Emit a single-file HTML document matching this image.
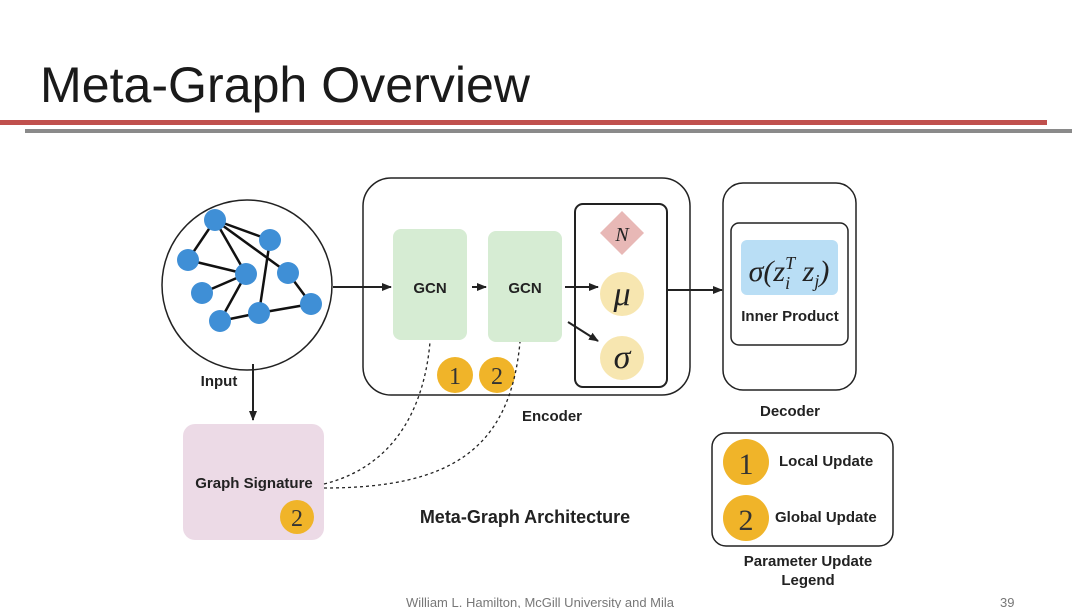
<!DOCTYPE html>
<html><head><meta charset="utf-8"><style>
html,body{margin:0;padding:0;background:#fff;}
svg{display:block;}
.b{font-family:"Liberation Sans",sans-serif;font-weight:bold;fill:#222;}
</style></head><body>
<svg width="1080" height="608" viewBox="0 0 1080 608" xmlns="http://www.w3.org/2000/svg">
<defs>
<marker id="ar" markerWidth="10" markerHeight="10" refX="9" refY="5" orient="auto" markerUnits="userSpaceOnUse">
<path d="M0,1 L10,5 L0,9 z" fill="#222"/></marker>
</defs>
<text x="40" y="102" font-family="Liberation Sans,sans-serif" font-size="50" fill="#1a1a1a" textLength="490" lengthAdjust="spacingAndGlyphs">Meta-Graph Overview</text>
<rect x="0" y="120" width="1047" height="5" fill="#c0504d"/>
<rect x="25" y="129" width="1047" height="4" fill="#8a8a8a"/>

<!-- input graph -->
<circle cx="247" cy="285" r="85" fill="#fff" stroke="#222" stroke-width="1.5"/>
<g stroke="#111" stroke-width="2.5">
<line x1="215" y1="220" x2="270" y2="240"/>
<line x1="215" y1="220" x2="188" y2="260"/>
<line x1="215" y1="220" x2="246" y2="274"/>
<line x1="215" y1="220" x2="288" y2="273"/>
<line x1="188" y1="260" x2="246" y2="274"/>
<line x1="202" y1="293" x2="246" y2="274"/>
<line x1="246" y1="274" x2="220" y2="321"/>
<line x1="270" y1="240" x2="259" y2="313"/>
<line x1="288" y1="273" x2="311" y2="304"/>
<line x1="220" y1="321" x2="259" y2="313"/>
<line x1="259" y1="313" x2="311" y2="304"/>
</g>
<g fill="#3f8fd6">
<circle cx="215" cy="220" r="11"/><circle cx="270" cy="240" r="11"/>
<circle cx="188" cy="260" r="11"/><circle cx="246" cy="274" r="11"/>
<circle cx="288" cy="273" r="11"/><circle cx="202" cy="293" r="11"/>
<circle cx="311" cy="304" r="11"/><circle cx="220" cy="321" r="11"/>
<circle cx="259" cy="313" r="11"/>
</g>
<text class="b" x="219" y="386" font-size="15" text-anchor="middle">Input</text>
<line x1="253" y1="364" x2="253" y2="420" stroke="#222" stroke-width="2" marker-end="url(#ar)"/>

<!-- encoder -->
<rect x="363" y="178" width="327" height="217" rx="28" fill="none" stroke="#222" stroke-width="1.5"/>
<rect x="575" y="204" width="92" height="183" rx="8" fill="none" stroke="#222" stroke-width="2"/>
<rect x="393" y="229" width="74" height="111" rx="8" fill="#d6ecd3"/>
<rect x="488" y="231" width="74" height="111" rx="8" fill="#d6ecd3"/>
<text class="b" x="430" y="293" font-size="15" text-anchor="middle">GCN</text>
<text class="b" x="525" y="293" font-size="15" text-anchor="middle">GCN</text>
<line x1="333" y1="287" x2="391" y2="287" stroke="#222" stroke-width="2" marker-end="url(#ar)"/>
<line x1="472" y1="287" x2="486" y2="287" stroke="#222" stroke-width="2" marker-end="url(#ar)"/>
<line x1="565" y1="287" x2="598" y2="287" stroke="#222" stroke-width="2" marker-end="url(#ar)"/>
<line x1="568" y1="322" x2="598" y2="341" stroke="#222" stroke-width="2" marker-end="url(#ar)"/>
<path d="M622,211 L644,233 L622,255 L600,233 z" fill="#e8b8b6"/>
<text x="622" y="241" font-family="Liberation Serif,serif" font-style="italic" font-size="20" text-anchor="middle" fill="#222">N</text>
<circle cx="622" cy="294" r="22" fill="#f7e6b0"/>
<text x="622" y="305" font-family="Liberation Serif,serif" font-style="italic" font-size="34" text-anchor="middle" fill="#222">μ</text>
<circle cx="622" cy="358" r="22" fill="#f7e6b0"/>
<text x="622" y="368" font-family="Liberation Serif,serif" font-style="italic" font-size="34" text-anchor="middle" fill="#222">σ</text>
<circle cx="455" cy="375" r="18" fill="#f0b429"/>
<text x="455" y="384" font-family="Liberation Serif,serif" font-size="24" text-anchor="middle" fill="#333">1</text>
<circle cx="497" cy="375" r="18" fill="#f0b429"/>
<text x="497" y="384" font-family="Liberation Serif,serif" font-size="24" text-anchor="middle" fill="#333">2</text>
<text class="b" x="552" y="421" font-size="15" text-anchor="middle">Encoder</text>

<line x1="668" y1="290" x2="722" y2="290" stroke="#222" stroke-width="2" marker-end="url(#ar)"/>

<!-- decoder -->
<rect x="723" y="183" width="133" height="207" rx="20" fill="none" stroke="#222" stroke-width="1.5"/>
<rect x="731" y="223" width="117" height="122" rx="8" fill="none" stroke="#222" stroke-width="1.5"/>
<rect x="741" y="240" width="97" height="55" rx="6" fill="#b9def5"/>
<text x="789" y="281" font-family="Liberation Serif,serif" font-style="italic" font-size="30" text-anchor="middle" fill="#222">σ(z<tspan font-size="18" dy="8">i</tspan><tspan font-size="18" dy="-20" dx="-5">T</tspan><tspan dy="12"> z</tspan><tspan font-size="18" dy="6">j</tspan><tspan dy="-6">)</tspan></text>
<text class="b" x="790" y="321" font-size="15" text-anchor="middle">Inner Product</text>
<text class="b" x="790" y="416" font-size="15" text-anchor="middle">Decoder</text>

<!-- graph signature -->
<rect x="183" y="424" width="141" height="116" rx="12" fill="#ecdae6"/>
<text class="b" x="254" y="488" font-size="15" text-anchor="middle">Graph Signature</text>
<circle cx="297" cy="517" r="17" fill="#f0b429"/>
<text x="297" y="526" font-family="Liberation Serif,serif" font-size="24" text-anchor="middle" fill="#333">2</text>
<path d="M324,484 C400,465 425,400 430,342" fill="none" stroke="#222" stroke-width="1.3" stroke-dasharray="3,3"/>
<path d="M324,488 C450,488 510,450 520,342" fill="none" stroke="#222" stroke-width="1.3" stroke-dasharray="3,3"/>
<text class="b" x="525" y="523" font-size="18" text-anchor="middle">Meta-Graph Architecture</text>

<!-- legend -->
<rect x="712" y="433" width="181" height="113" rx="14" fill="none" stroke="#222" stroke-width="1.5"/>
<circle cx="746" cy="462" r="23" fill="#f0b429"/>
<text x="746" y="474" font-family="Liberation Serif,serif" font-size="30" text-anchor="middle" fill="#333">1</text>
<circle cx="746" cy="518" r="23" fill="#f0b429"/>
<text x="746" y="530" font-family="Liberation Serif,serif" font-size="30" text-anchor="middle" fill="#333">2</text>
<text class="b" x="779" y="466" font-size="15">Local Update</text>
<text class="b" x="775" y="522" font-size="15">Global Update</text>
<text class="b" x="808" y="566" font-size="15" text-anchor="middle">Parameter Update</text>
<text class="b" x="808" y="585" font-size="15" text-anchor="middle">Legend</text>

<text x="540" y="607" font-family="Liberation Sans,sans-serif" font-size="13" text-anchor="middle" fill="#777">William L. Hamilton, McGill University and Mila</text>
<text x="1000" y="607" font-family="Liberation Sans,sans-serif" font-size="13" fill="#777">39</text>
</svg>
</body></html>
